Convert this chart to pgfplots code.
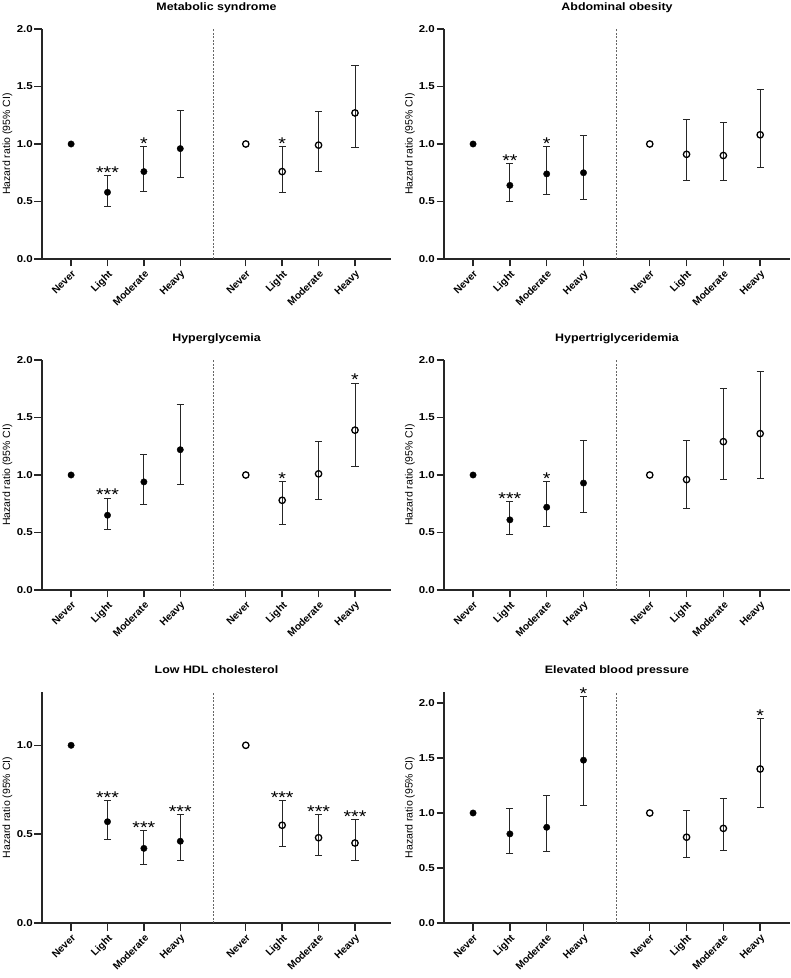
\documentclass[border=0pt]{standalone}
\usepackage{fontspec}
\setmainfont{Liberation Sans}
\newfontfamily\wf[FakeStretch=1.15]{Liberation Sans}
\usepackage{pgfplots}
\pgfplotsset{compat=1.18}
\pgfkeys{/pgfplots/table/ci/.style={x=x,y=y,y error plus expr=\thisrow{hi}-\thisrow{y},y error minus expr=\thisrow{y}-\thisrow{lo}}}
\tikzset{divider/.style={black!60, line width=0.8pt, dash pattern=on 2pt off 1.5pt}}
\pgfplotsset{
 hrax/.style={
  scale only axis, height=230pt,
  axis lines=left, axis line style={-, line width=1.4pt, black!85},
  tick align=outside, major tick length=7.5pt,
  tick style={line width=1.4pt, black!85},
  xtick={0,1,2,3,4.8,5.8,6.8,7.8},
  xticklabels={Never,Light,Moderate,Heavy,Never,Light,Moderate,Heavy},
  xticklabel style={rotate=45, anchor=north east, font=\bfseries\fontsize{10.2}{12}\selectfont, inner sep=2pt},
  yticklabel style={inner sep=1.5pt, font=\wf\bfseries\fontsize{10}{12}\selectfont, /pgf/number format/.cd, fixed, fixed zerofill, precision=1, assume math mode=true},
  ylabel={Hazard ratio (95\% CI)},
  every axis y label/.style={at={(axis description cs:-0.091,0.5)}, rotate=90, anchor=base, font=\fontsize{10.5}{12}\selectfont},
  every axis title/.style={at={(0.5,1)}, anchor=base, yshift=18.5pt, font=\wf\bfseries\fontsize{10.8}{13}\selectfont},
  clip=false, ymin=0,
 },
 L/.style={hrax, width=349pt, xmin=-0.8, xmax=8.79},
 R/.style={hrax, width=346pt, xmin=-0.79, xmax=8.61},
 errs/.style={error bars/.cd, y dir=both, y explicit, error bar style={line width=0.9pt, black!85}, error mark options={rotate=90, line width=0.9pt, mark size=3.6pt, black!85}},
 filled/.style={only marks, mark=*, mark size=3.2pt, mark options={fill=black, draw=black, line width=0.4pt}},
 open/.style={only marks, mark=o, mark size=3.2pt, mark options={draw=black, line width=1.3pt}},
 stars/.style={only marks, mark=none, point meta=explicit symbolic, nodes near coords, nodes near coords style={anchor=base, yshift=-3pt, font=\wf\fontsize{17}{17}\selectfont, inner sep=0pt}},
}
\begin{document}
\begin{tikzpicture}
\path[use as bounding box] (0,0) rectangle (791pt,978pt);

% ---------- Metabolic syndrome ----------
\begin{axis}[L, at={(42pt,719pt)}, anchor=south west, ymax=2, ytick={0,0.5,1,1.5,2}, title={Metabolic syndrome}]
\draw[divider] (axis cs:3.9,0) -- (axis cs:3.9,2);
\addplot[filled] coordinates {(0,1)};
\addplot[open] coordinates {(4.8,1)};
\addplot[filled, errs] table[ci] {
x y lo hi
1 0.58 0.46 0.73
2 0.76 0.59 0.98
3 0.96 0.71 1.29
};
\addplot[open, errs] table[ci] {
x y lo hi
5.8 0.76 0.58 0.98
6.8 0.99 0.76 1.28
7.8 1.27 0.97 1.68
};
\addplot[stars] coordinates {(1,0.73) [***] (2,0.98) [*] (5.8,0.98) [*]};
\end{axis}

% ---------- Abdominal obesity ----------
\begin{axis}[R, at={(444pt,719pt)}, anchor=south west, ymax=2, ytick={0,0.5,1,1.5,2}, title={Abdominal obesity}]
\draw[divider] (axis cs:3.9,0) -- (axis cs:3.9,2);
\addplot[filled] coordinates {(0,1)};
\addplot[open] coordinates {(4.8,1)};
\addplot[filled, errs] table[ci] {
x y lo hi
1 0.64 0.50 0.83
2 0.74 0.56 0.98
3 0.75 0.52 1.07
};
\addplot[open, errs] table[ci] {
x y lo hi
5.8 0.91 0.68 1.21
6.8 0.90 0.68 1.19
7.8 1.08 0.80 1.47
};
\addplot[stars] coordinates {(1,0.83) [**] (2,0.98) [*]};
\end{axis}

% ---------- Hyperglycemia ----------
\begin{axis}[L, at={(42pt,388pt)}, anchor=south west, ymax=2, ytick={0,0.5,1,1.5,2}, title={Hyperglycemia}]
\draw[divider] (axis cs:3.9,0) -- (axis cs:3.9,2);
\addplot[filled] coordinates {(0,1)};
\addplot[open] coordinates {(4.8,1)};
\addplot[filled, errs] table[ci] {
x y lo hi
1 0.65 0.53 0.80
2 0.94 0.74 1.18
3 1.22 0.92 1.61
};
\addplot[open, errs] table[ci] {
x y lo hi
5.8 0.78 0.57 0.94
6.8 1.01 0.79 1.29
7.8 1.39 1.07 1.80
};
\addplot[stars] coordinates {(1,0.80) [***] (5.8,0.94) [*] (7.8,1.80) [*]};
\end{axis}

% ---------- Hypertriglyceridemia ----------
\begin{axis}[R, at={(444pt,388pt)}, anchor=south west, ymax=2, ytick={0,0.5,1,1.5,2}, title={Hypertriglyceridemia}]
\draw[divider] (axis cs:3.9,0) -- (axis cs:3.9,2);
\addplot[filled] coordinates {(0,1)};
\addplot[open] coordinates {(4.8,1)};
\addplot[filled, errs] table[ci] {
x y lo hi
1 0.61 0.48 0.77
2 0.72 0.55 0.94
3 0.93 0.67 1.30
};
\addplot[open, errs] table[ci] {
x y lo hi
5.8 0.96 0.71 1.30
6.8 1.29 0.96 1.75
7.8 1.36 0.97 1.90
};
\addplot[stars] coordinates {(1,0.77) [***] (2,0.94) [*]};
\end{axis}

% ---------- Low HDL cholesterol ----------
\begin{axis}[L, at={(42pt,55pt)}, anchor=south west, height=231pt, ymax=1.3, ytick={0,0.5,1}, title={Low HDL cholesterol}]
\draw[divider] (axis cs:3.9,0) -- (axis cs:3.9,1.3);
\addplot[filled] coordinates {(0,1)};
\addplot[open] coordinates {(4.8,1)};
\addplot[filled, errs] table[ci] {
x y lo hi
1 0.57 0.47 0.69
2 0.42 0.33 0.52
3 0.46 0.35 0.61
};
\addplot[open, errs] table[ci] {
x y lo hi
5.8 0.55 0.43 0.69
6.8 0.48 0.38 0.61
7.8 0.45 0.35 0.58
};
\addplot[stars] coordinates {(1,0.69) [***] (2,0.52) [***] (3,0.61) [***] (5.8,0.69) [***] (6.8,0.61) [***] (7.8,0.58) [***]};
\end{axis}

% ---------- Elevated blood pressure ----------
\begin{axis}[R, at={(444pt,55pt)}, anchor=south west, height=231pt, ymax=2.1, ytick={0,0.5,1,1.5,2}, title={Elevated blood pressure}]
\draw[divider] (axis cs:3.9,0) -- (axis cs:3.9,2.1);
\addplot[filled] coordinates {(0,1)};
\addplot[open] coordinates {(4.8,1)};
\addplot[filled, errs] table[ci] {
x y lo hi
1 0.81 0.63 1.04
2 0.87 0.65 1.16
3 1.48 1.07 2.06
};
\addplot[open, errs] table[ci] {
x y lo hi
5.8 0.78 0.60 1.02
6.8 0.86 0.66 1.13
7.8 1.40 1.05 1.86
};
\addplot[stars] coordinates {(3,2.06) [*] (7.8,1.86) [*]};
\end{axis}
\end{tikzpicture}
\end{document}
